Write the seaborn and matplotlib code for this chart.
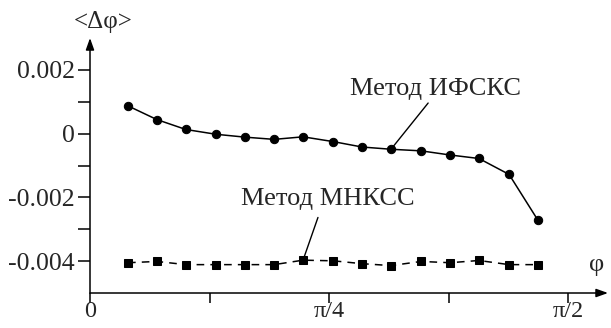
import matplotlib
matplotlib.use('Agg')
import matplotlib.pyplot as plt
import seaborn as sns
import numpy as np
import pandas as pd

# данные
phi = [0.125, 0.220, 0.315, 0.414, 0.509, 0.605, 0.700, 0.799,
       0.894, 0.989, 1.088, 1.183, 1.278, 1.377, 1.472]
ifsks = [0.00087, 0.00044, 0.00013, -0.00002, -0.00011, -0.00018, -0.00010, -0.00025,
         -0.00042, -0.00049, -0.00054, -0.00067, -0.00078, -0.00128, -0.00272]
mnkss = [-0.00405, -0.00401, -0.00411, -0.00411, -0.00411, -0.00411, -0.00397, -0.00399,
         -0.00408, -0.00414, -0.00401, -0.00405, -0.00398, -0.00411, -0.00411]

xticks = [0, np.pi / 8, np.pi / 4, 3 * np.pi / 8, np.pi / 2]
xticklabels = ['0', '', 'π/4', '', 'π/2']
yticks = [0.002, 0.001, 0, -0.001, -0.002, -0.003, -0.004]
yticklabels = ['0.002', '', '0', '', '-0.002', '', '-0.004']

sns.set_style('ticks')
plt.rcParams['font.family'] = ['Liberation Serif', 'DejaVu Serif']

df = pd.DataFrame({'phi': phi, 'ifsks': ifsks, 'mnkss': mnkss})

fig = plt.figure(figsize=(6.11, 3.28), dpi=100)
ax = fig.add_axes([0.1473, 0.1067, 0.8478, 0.7774])

sns.lineplot(data=df, x='phi', y='ifsks', ax=ax, color='k', lw=1.1,
             marker='o', markersize=6, mec='k', mfc='k', clip_on=False)
sns.lineplot(data=df, x='phi', y='mnkss', ax=ax, color='k', lw=1.1,
             linestyle=(0, (5, 4)), marker='s', markersize=5.5, mec='k', mfc='k',
             clip_on=False)

ax.set_xlim(0, 1.702)
ax.set_ylim(-0.005, 0.003)
ax.set_xlabel('')
ax.set_ylabel('')

for s in ['top', 'right', 'left', 'bottom']:
    ax.spines[s].set_visible(False)

# оси со стрелками
arrow = dict(arrowstyle='-|>,head_length=0.7,head_width=0.25', color='k', lw=1.1,
             shrinkA=0, shrinkB=0)
ax.annotate('', xy=(1, 0), xycoords='axes fraction', xytext=(0, 0), arrowprops=arrow)
ax.annotate('', xy=(0, 1), xycoords='axes fraction', xytext=(0, 0), arrowprops=arrow)

ax.set_xticks(xticks)
ax.set_xticklabels(xticklabels)
ax.set_yticks(yticks)
ax.set_yticklabels(yticklabels)
ax.tick_params(axis='y', direction='out', length=8.5, width=1.1, color='k',
               labelsize=18.5, pad=2.5)
ax.tick_params(axis='x', direction='out', length=7, width=1.1, color='k',
               labelsize=17.5, pad=-1)

ax.text(0.043, 0.00315, '<Δφ>', fontsize=18, ha='center', va='bottom', clip_on=False)
ax.text(1.665, -0.00447, 'φ', fontsize=19, ha='center', va='bottom')

# подписи методов с выносками
ax.plot([phi[9], 1.111], [ifsks[9], 0.00096], color='k', lw=1.0)
ax.text(1.134, 0.00121, 'Метод ИФСКС', fontsize=19, ha='center', va='baseline')
ax.plot([phi[6], 0.749], [mnkss[6], -0.00263], color='k', lw=1.0)
ax.text(0.782, -0.00225, 'Метод МНКСС', fontsize=19, ha='center', va='baseline')

fig.savefig('out.png', dpi=100)
plt.close(fig)
